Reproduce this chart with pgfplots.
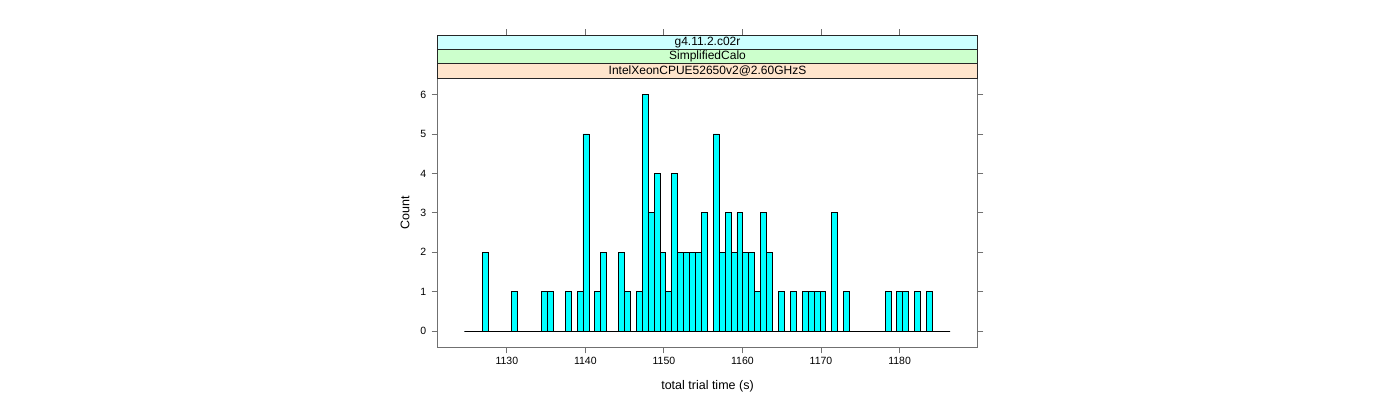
\documentclass[border=0pt]{standalone}
\usepackage{fontspec}
\setmainfont{Liberation Sans}
\usepackage{pgfplots}
\pgfplotsset{compat=1.18}
\definecolor{stripA}{HTML}{FFE5CC}
\definecolor{stripB}{HTML}{CCFFCC}
\definecolor{stripC}{HTML}{CCFFFF}
\definecolor{barfill}{HTML}{00FFFF}
\definecolor{boxgray}{HTML}{707070}
\begin{document}
\begin{tikzpicture}
\useasboundingbox (0pt,0pt) rectangle (1400pt,400pt);
\begin{axis}[
  name=ax, at={(437.7pt,52.7pt)}, anchor=south west,
  scale only axis, width=539.6pt, height=269.3pt,
  xmin=1121.2, xmax=1189.9, ymin=-0.41, ymax=6.42,
  xtick={1130,1140,1150,1160,1170,1180}, ytick={0,1,2,3,4,5,6},
  xtick pos=left, ytick pos=both, yticklabel pos=left,
  tick align=outside, major tick length=6pt,
  axis line style={boxgray, line width=0.9pt},
  tick style={boxgray, line width=0.9pt},
  ticklabel style={font=\fontsize{10.5}{12}\selectfont},
  yticklabel style={xshift=-2pt},
  /pgf/number format/assume math mode=true,
  /pgf/number format/1000 sep={},
  xlabel={total trial time (s)}, ylabel={Count},
  label style={font=\fontsize{12.5}{14}\selectfont},
  xlabel style={at={(rel axis cs:0.5,-0.146)}, anchor=center},
  ylabel style={at={(rel axis cs:-0.0606,0.5)}, anchor=center},
  clip=false,
]
\addplot[ybar interval, fill=barfill, draw=black, line width=0.8pt] table {
x y
1124.61 0
1125.36 0
1126.12 0
1126.87 2
1127.63 0
1128.38 0
1129.13 0
1129.89 0
1130.64 1
1131.40 0
1132.15 0
1132.91 0
1133.66 0
1134.41 1
1135.17 1
1135.92 0
1136.68 0
1137.43 1
1138.18 0
1138.94 1
1139.69 5
1140.45 0
1141.20 1
1141.95 2
1142.71 0
1143.46 0
1144.22 2
1144.97 1
1145.72 0
1146.48 1
1147.23 6
1147.99 3
1148.74 4
1149.50 2
1150.25 1
1151.00 4
1151.76 2
1152.51 2
1153.27 2
1154.02 2
1154.77 3
1155.53 0
1156.28 5
1157.04 2
1157.79 3
1158.54 2
1159.30 3
1160.05 2
1160.81 2
1161.56 1
1162.32 3
1163.07 2
1163.82 0
1164.58 1
1165.33 0
1166.09 1
1166.84 0
1167.59 1
1168.35 1
1169.10 1
1169.86 1
1170.61 0
1171.36 3
1172.12 0
1172.87 1
1173.63 0
1174.38 0
1175.13 0
1175.89 0
1176.64 0
1177.40 0
1178.15 1
1178.91 0
1179.66 1
1180.41 1
1181.17 0
1181.92 1
1182.68 0
1183.43 1
1184.18 0
1184.94 0
1185.69 0
1186.45 0
};
\pgfplotsinvokeforeach{1130,1140,1150,1160,1170,1180}{
  \draw[boxgray, line width=0.9pt] ([yshift=43pt]axis cs:#1,6.42) -- ([yshift=49pt]axis cs:#1,6.42);
}
\end{axis}
\draw[black!85, line width=0.8pt, fill=stripA] (ax.north west) rectangle ([yshift=14.3pt]ax.north east);
\draw[black!85, line width=0.8pt, fill=stripB] ([yshift=14.3pt]ax.north west) rectangle ([yshift=28.6pt]ax.north east);
\draw[black!85, line width=0.8pt, fill=stripC] ([yshift=28.6pt]ax.north west) rectangle ([yshift=43pt]ax.north east);
\node[font=\fontsize{12}{14}\selectfont, inner sep=0pt] at ([yshift=7.15pt]ax.north) {IntelXeonCPUE52650v2@2.60GHzS};
\node[font=\fontsize{12}{14}\selectfont, inner sep=0pt] at ([yshift=21.45pt]ax.north) {SimplifiedCalo};
\node[font=\fontsize{12}{14}\selectfont, inner sep=0pt] at ([yshift=35.8pt]ax.north) {g4.11.2.c02r};
\end{tikzpicture}
\end{document}
